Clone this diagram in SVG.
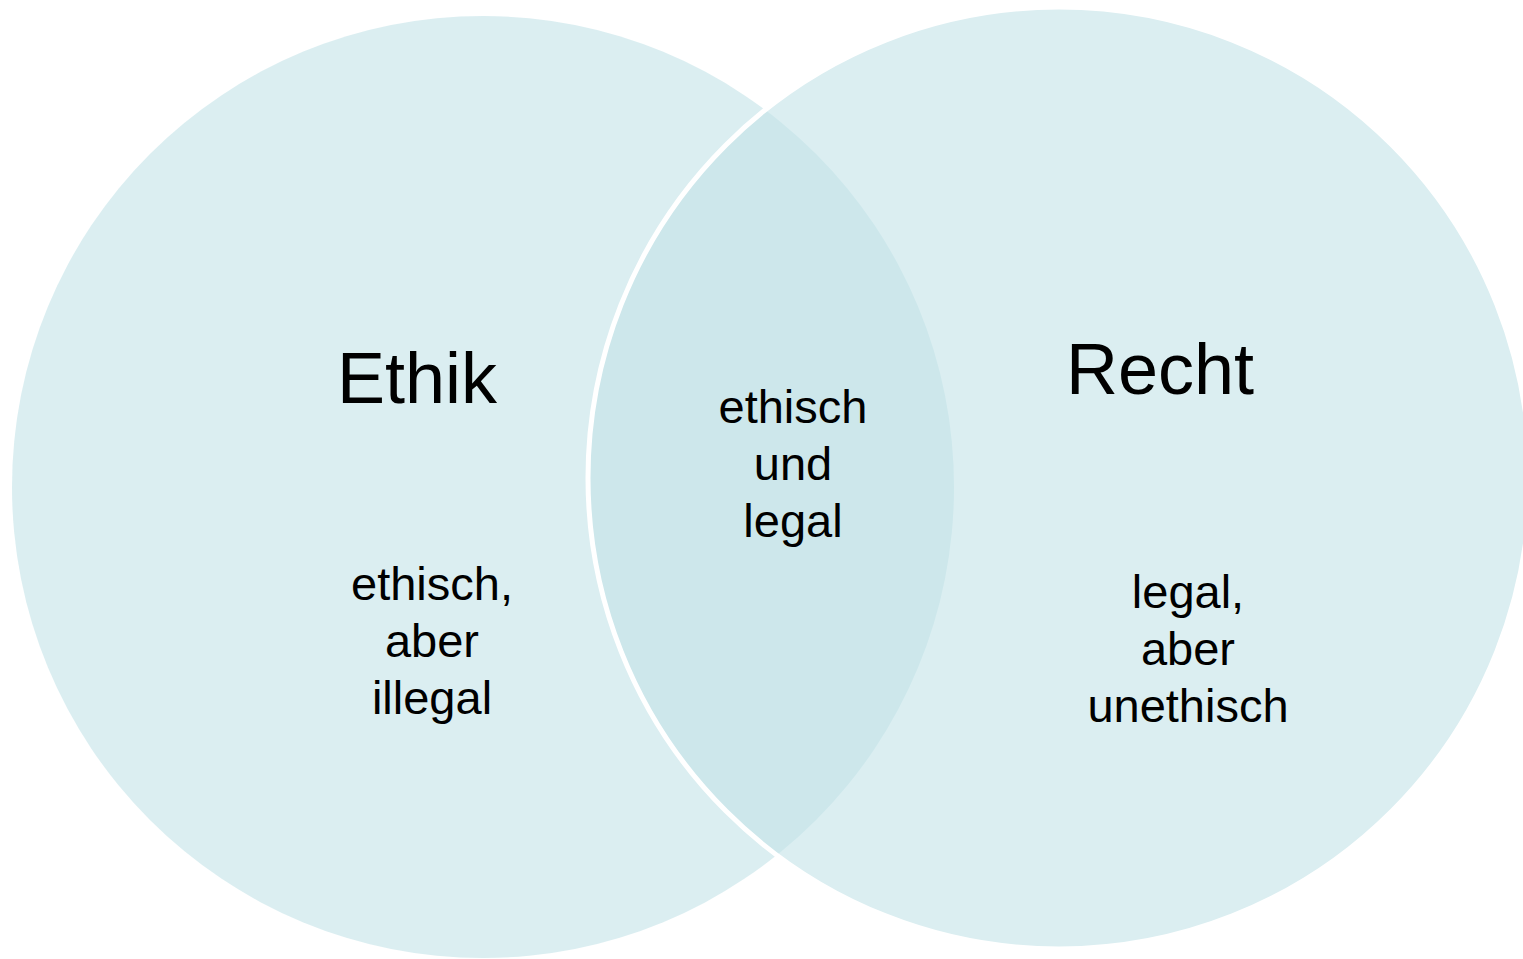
<svg xmlns="http://www.w3.org/2000/svg" width="1523" height="959" viewBox="0 0 1523 959">
  <style>
    .set { fill: #C3E3E8; fill-opacity: 0.6; }
    .title { font-family: "Liberation Sans", Arial, sans-serif; font-size: 72px; fill: #000; text-anchor: middle; }
    .label { font-family: "Liberation Sans", Arial, sans-serif; font-size: 47px; fill: #000; text-anchor: middle; }
  </style>
  <rect width="1523" height="959" fill="#FFFFFF"/>
  <g id="ethik">
    <circle class="set" cx="483" cy="487" r="471"/>
    <text class="title" x="417" y="403">Ethik</text>
    <text class="label" x="432" y="600">ethisch,</text>
    <text class="label" x="432" y="657">aber</text>
    <text class="label" x="432" y="714">illegal</text>
  </g>
  <g id="recht">
    <circle class="set" cx="1059" cy="478" r="471" stroke="#FFFFFF" stroke-width="5"/>
    <text class="title" x="1160" y="394">Recht</text>
    <text class="label" x="1188" y="608">legal,</text>
    <text class="label" x="1188" y="665">aber</text>
    <text class="label" x="1188" y="722">unethisch</text>
  </g>
  <g id="ueberschneidung">
    <text class="label" x="793" y="423">ethisch</text>
    <text class="label" x="793" y="480">und</text>
    <text class="label" x="793" y="537">legal</text>
  </g>
  <g id="connectors"/>
</svg>
